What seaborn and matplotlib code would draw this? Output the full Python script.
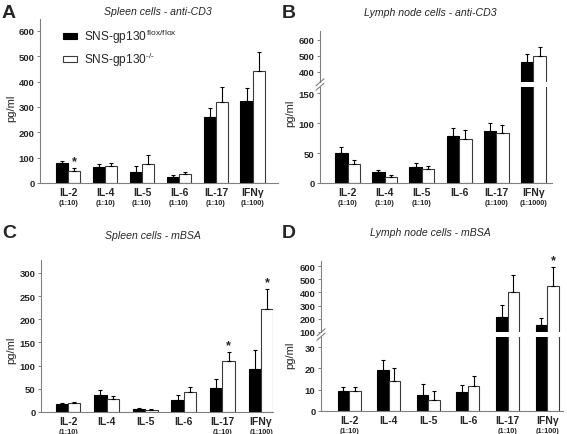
import pandas as pd
import matplotlib.pyplot as plt
import seaborn as sns
from matplotlib.patches import Patch
from matplotlib.lines import Line2D

# Cytokine release (pg/ml)
cytokines = ['IL-2', 'IL-4', 'IL-5', 'IL-6', 'IL-17', 'IFNγ']
genotypes = ['flox', 'ko']

# A: spleen cells, anti-CD3
a_flox = [78, 62, 42, 25, 262, 323]
a_flox_err = [10, 11, 25, 7, 34, 52]
a_ko = [47, 68, 75, 36, 320, 440]
a_ko_err = [11, 12, 35, 6, 58, 77]
a_dil = ['(1:10)', '(1:10)', '(1:10)', '(1:10)', '(1:10)', '(1:100)']

# B: lymph node cells, anti-CD3
b_flox = [50, 18, 26, 79, 86, 465]
b_flox_err = [10, 3, 8, 13, 14, 48]
b_ko = [31, 10, 23, 74, 83, 497]
b_ko_err = [7, 3, 5, 14, 14, 58]
b_dil = ['(1:10)', '(1:10)', '(1:10)', '', '(1:100)', '(1:1000)']

# C: spleen cells, mBSA
c_flox = [17, 36, 6, 26, 51, 92]
c_flox_err = [3, 11, 2, 11, 20, 42]
c_ko = [19, 28, 4, 44, 111, 223]
c_ko_err = [3, 7, 2, 10, 19, 42]
c_dil = ['(1:10)', '', '', '', '(1:10)', '(1:100)']

# D: lymph node cells, mBSA
d_flox = [9.5, 19.3, 7.5, 8.7, 215, 150]
d_flox_err = [1.7, 4.7, 5.2, 3.5, 90, 55]
d_ko = [9.5, 14.3, 5.1, 11.6, 400, 452]
d_ko_err = [1.7, 5.7, 4.2, 4.9, 130, 138]
d_dil = ['(1:10)', '', '', '', '(1:10)', '(1:100)']

sns.set_style('ticks')
plt.rcParams['font.family'] = ['Liberation Sans', 'DejaVu Sans']
plt.rcParams['mathtext.fontset'] = 'custom'
plt.rcParams['mathtext.rm'] = 'Liberation Sans'
plt.rcParams['mathtext.it'] = 'Liberation Sans:italic'
plt.rcParams['mathtext.bf'] = 'Liberation Sans:bold'

W, H = 567, 435
fig = plt.figure(figsize=(W / 100, H / 100), dpi=100)
SPINE = '#808080'


def px_axes(left, top, right, bottom):
    return fig.add_axes([left / W, 1 - bottom / H, (right - left) / W, (bottom - top) / H])


def draw_bars(ax, flox, flox_err, ko, ko_err, width):
    df = pd.DataFrame({'cytokine': cytokines * 2,
                       'genotype': [genotypes[0]] * 6 + [genotypes[1]] * 6,
                       'value': flox + ko})
    sns.barplot(data=df, x='cytokine', y='value', hue='genotype', hue_order=genotypes,
                palette=['black', 'white'], saturation=1, width=width, gap=0,
                errorbar=None, legend=False, linewidth=0.8, edgecolor='black', ax=ax)
    for cont, errs, ec in zip(ax.containers, [flox_err, ko_err], ['black', '#3a3a3a']):
        for bar, e in zip(cont, errs):
            bar.set_edgecolor(ec)
            x = bar.get_x() + bar.get_width() / 2
            ax.errorbar(x, bar.get_height(), yerr=[[0], [e]], fmt='none', ecolor='black',
                        elinewidth=0.8, capsize=1.6, capthick=0.8)
    ax.set_xlabel('')
    ax.set_ylabel('')


def style_y(ax, ticks):
    ax.set_yticks(ticks)
    ax.set_yticklabels([str(t) for t in ticks], fontweight='bold')
    ax.tick_params(axis='y', length=2.5, width=0.7, color=SPINE, labelsize=6.8, pad=1.5)
    for s in ['top', 'right']:
        ax.spines[s].set_visible(False)
    for s in ['left', 'bottom']:
        ax.spines[s].set_color(SPINE)
        ax.spines[s].set_linewidth(0.8)


def style_x(ax, dil):
    ax.set_xticks(range(len(cytokines)))
    ax.set_xticklabels(cytokines, fontweight='bold', fontsize=7.5)
    ax.tick_params(axis='x', length=0, pad=3.2)
    for i, d in enumerate(dil):
        if d:
            ax.annotate(d, xy=(i, 0), xycoords=('data', 'axes fraction'),
                        xytext=(0, -14), textcoords='offset points',
                        ha='center', va='center', fontsize=5.3, fontweight='bold')


def hide_x(ax):
    ax.spines['bottom'].set_visible(False)
    ax.set_xticks([])


def star(ax, i, top, width):
    x = i + width / 4
    ax.annotate('*', xy=(x, top), xytext=(0, 5), textcoords='offset points',
                ha='center', va='center', fontsize=9, fontweight='bold')


def brk(xpx, ypx):
    for dy in (-2.2, 2.2):
        fig.add_artist(Line2D([(xpx - 4) / W, (xpx + 4) / W],
                              [1 - (ypx + dy + 3.5) / H, 1 - (ypx + dy - 3.5) / H],
                              transform=fig.transFigure, color=SPINE, lw=0.8))


def top_of(vals, errs):
    return [v + e for v, e in zip(vals, errs)]


# ---- Panel A ----
wa = 0.67
axA = px_axes(40, 20, 278, 184)
draw_bars(axA, a_flox, a_flox_err, a_ko, a_ko_err, wa)
axA.set_xlim(-0.76, 5.68)
axA.set_ylim(0, 647)
style_y(axA, range(0, 601, 100))
style_x(axA, a_dil)
star(axA, 0, top_of(a_ko, a_ko_err)[0], wa)
handles = [Patch(facecolor='black', edgecolor='black', lw=0.8),
           Patch(facecolor='white', edgecolor='#3a3a3a', lw=0.8)]
axA.legend(handles, [r'SNS-gp130$^{\,\text{flox/flox}}$', r'SNS-gp130$^{\text{-/-}}$'],
           loc='upper left', bbox_to_anchor=(0.095, 0.95), frameon=False, fontsize=8.6,
           handlelength=1.2, handleheight=0.45, handletextpad=0.55, labelspacing=0.4,
           borderpad=0, borderaxespad=0)

# ---- Panel B (broken axis) ----
wb = 0.67
axBl = px_axes(320, 88, 552, 184)
axBu = px_axes(320, 32, 552, 83)
for ax in (axBl, axBu):
    draw_bars(ax, b_flox, b_flox_err, b_ko, b_ko_err, wb)
    ax.set_xlim(-0.74, 5.5)
axBl.set_ylim(0, 160)
axBu.set_ylim(337, 656)
style_y(axBl, [0, 50, 100, 150])
style_y(axBu, [400, 500, 600])
style_x(axBl, b_dil)
hide_x(axBu)
brk(320, 85.5)

# ---- Panel C ----
wc = 0.64
axC = px_axes(41, 261, 273, 413)
draw_bars(axC, c_flox, c_flox_err, c_ko, c_ko_err, wc)
axC.set_xlim(-0.70, 5.31)
axC.set_ylim(0, 328)
style_y(axC, range(0, 301, 50))
style_x(axC, c_dil)
c_top = top_of(c_ko, c_ko_err)
star(axC, 4, c_top[4], wc)
star(axC, 5, c_top[5], wc)

# ---- Panel D (broken axis) ----
wd = 0.58
axDl = px_axes(321, 338, 563, 412)
axDu = px_axes(321, 262, 563, 333)
for ax in (axDl, axDu):
    draw_bars(ax, d_flox, d_flox_err, d_ko, d_ko_err, wd)
    ax.set_xlim(-0.71, 5.4)
axDl.set_ylim(0, 34.7)
axDu.set_ylim(100, 638)
style_y(axDl, [0, 10, 20, 30])
style_y(axDu, range(100, 601, 100))
style_x(axDl, d_dil)
hide_x(axDu)
star(axDu, 5, top_of(d_ko, d_ko_err)[5], wd)
brk(321, 335.5)

# ---- Panel letters, titles, y labels ----
for letter, x, y in [('A', 9, 13), ('B', 289, 13), ('C', 9, 234), ('D', 289, 234)]:
    fig.text(x / W, 1 - y / H, letter, fontsize=14, fontweight='bold', ha='center', va='center')
for title, x, y in [('Spleen cells - anti-CD3', 158, 12), ('Lymph node cells - anti-CD3', 430, 13),
                    ('Spleen cells - mBSA', 153, 236), ('Lymph node cells - mBSA', 430, 233)]:
    fig.text(x / W, 1 - y / H, title, fontsize=7.6, style='italic', ha='center', va='center')
for x, y in [(11, 108), (290, 113), (11, 350), (290, 355)]:
    fig.text(x / W, 1 - y / H, 'pg/ml', fontsize=8, rotation=90, ha='center', va='center')

plt.savefig('out.png', dpi=100)
